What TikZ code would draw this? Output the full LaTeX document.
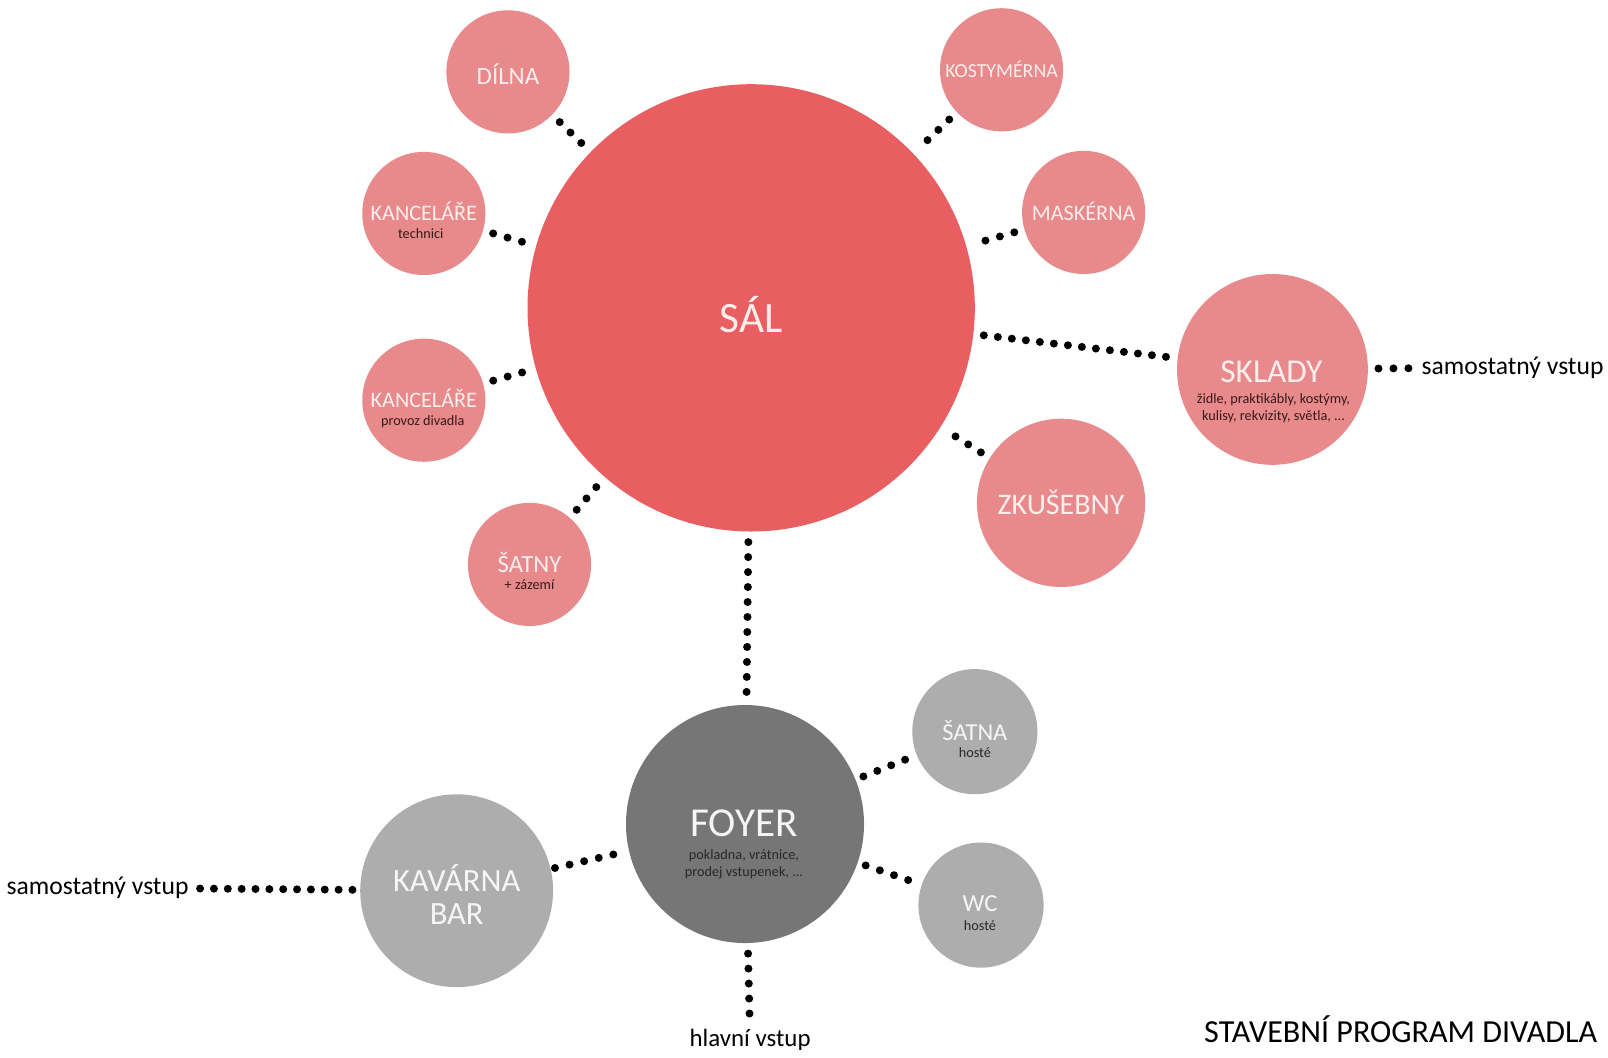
\documentclass[tikz,border=0pt]{standalone}
\usepackage{fontspec}
\setmainfont{Carlito}
\definecolor{salred}{RGB}{232,94,97}
\definecolor{pinkb}{RGB}{232,138,139}
\definecolor{foyerg}{RGB}{118,118,118}
\definecolor{lightg}{RGB}{173,173,173}
\definecolor{pinktxt}{RGB}{253,238,238}
\definecolor{darksub}{RGB}{55,25,25}
\definecolor{greysub}{RGB}{40,40,40}
\definecolor{greytxt}{RGB}{246,246,246}
\begin{document}
\begin{tikzpicture}[x=0.02cm,y=-0.02cm,
  bub/.style={circle,inner sep=0pt,minimum size=#1},
  pinkbub/.style={bub=#1,fill=pinkb},
  greybub/.style={bub=#1,fill=lightg},
  lbl/.style={inner sep=0pt,anchor=center,align=center},
  ptxt/.style={lbl,text=pinktxt,font=\fontsize{#1}{#1}\selectfont},
  gtxt/.style={lbl,text=greytxt,font=\fontsize{#1}{#1}\selectfont},
  psub/.style={lbl,text=darksub,font=\fontsize{7.9}{9.7}\selectfont},
  gsub/.style={lbl,text=greysub,font=\fontsize{7.9}{9.7}\selectfont},
  outtxt/.style={inner sep=0pt,text=black,font=\fontsize{#1}{#1}\selectfont},
  dotline/.style={line width=0.156cm,line cap=round,dash pattern=on 0pt off 0.292cm,
    shorten <=0.2cm,shorten >=0.2cm}
]
\useasboundingbox (0,0) rectangle (1567,1031);

% main hall
\node[bub=8.72cm,fill=salred] (sal) at (732,300) {};
\node[ptxt=24] (salT) at (732,307) {SÁL};

% pink rooms
\node[pinkbub=2.4cm] (dilna) at (495,70) {};
\node[ptxt=13.8] (dilnaT) at (495,72) {DÍLNA};

\node[pinkbub=2.4cm] (kost) at (976,68) {};
\node[ptxt=11] (kostT) at (976,68) {KOSTYMÉRNA};

\node[pinkbub=2.4cm] (kanc1) at (413,208) {};
\node[ptxt=12.3] (kanc1T) at (413,206) {KANCELÁŘE};
\node[psub] (kanc1S) at (410,228) {technici};

\node[pinkbub=2.4cm] (mask) at (1056,207) {};
\node[ptxt=12.3] (maskT) at (1056,206) {MASKÉRNA};

\node[pinkbub=2.4cm] (kanc2) at (413,390) {};
\node[ptxt=12.3] (kanc2T) at (413,388) {KANCELÁŘE};
\node[psub] (kanc2S) at (412,411) {provoz divadla};

\node[pinkbub=3.72cm] (skl) at (1240,360) {};
\node[ptxt=18.5] (sklT) at (1239,362) {SKLADY};
\node[psub] (sklS) at (1241,398) {židle, praktikábly, kostýmy,\\kulisy, rekvizity, světla, ...};

\node[pinkbub=3.28cm] (zkus) at (1034,490) {};
\node[ptxt=16.6] (zkusT) at (1034,490) {ZKUŠEBNY};

\node[pinkbub=2.4cm] (satny) at (516,550) {};
\node[ptxt=13.7] (satnyT) at (516,548) {ŠATNY};
\node[psub] (satnyS) at (516,570) {+ zázemí};

% foyer group
\node[bub=4.64cm,fill=foyerg] (foyer) at (726,803) {};
\node[gtxt=22.8] (foyerT) at (725,802) {FOYER};
\node[gsub] (foyerS) at (725,842) {pokladna, vrátnice,\\prodej vstupenek, ...};

\node[greybub=2.44cm] (satna) at (950,713) {};
\node[gtxt=13.5] (satnaT) at (950,712) {ŠATNA};
\node[gsub] (satnaS) at (950,733) {hosté};

\node[greybub=2.44cm] (wc) at (956,882) {};
\node[gtxt=13.6] (wcT) at (955,881) {WC};
\node[gsub] (wcS) at (955,902) {hosté};

\node[greybub=3.76cm] (kav) at (445,868) {};
\node[lbl,text=greytxt,font=\fontsize{18}{18.2}\selectfont] (kavT) at (445,872) {KAVÁRNA\\BAR};

% outside texts
\node[outtxt=14.2,anchor=east] (samL) at (184,865) {samostatný vstup};
\node[outtxt=14.2,anchor=west] (samR) at (1385,358) {samostatný vstup};
\node[outtxt=13.8] (hlavni) at (731,1013) {hlavní vstup};
\node[outtxt=17.8] (title) at (1365,1003) {STAVEBNÍ PROGRAM DIVADLA};

% connectors
\draw[dotline] (dilna) -- (sal);
\draw[dotline] (kanc1) -- (sal);
\draw[dotline] (kanc2) -- (sal);
\draw[dotline] (satny) -- (sal);
\draw[dotline] (kost) -- (sal);
\draw[dotline] (mask) -- (sal);
\draw[dotline] (zkus) -- (sal);
\draw[dotline,dash pattern=on 0pt off 0.275cm] (sal) -- (skl);
\draw[dotline] (skl) -- (samR);
\draw[dotline,shorten >=0.18cm] (sal) -- (foyer);
\draw[dotline,shorten <=0.16cm,shorten >=0.16cm] (foyer) -- (satna);
\draw[dotline,shorten <=0.16cm,shorten >=0.16cm] (foyer) -- (wc);
\draw[dotline,shorten <=0.08cm,shorten >=0.14cm] (kav) -- (foyer);
\draw[dotline,dash pattern=on 0pt off 0.27cm,shorten <=0.22cm,shorten >=0.1cm] (samL) -- (kav);
\draw[dotline] (foyer) -- (hlavni);
\end{tikzpicture}
\end{document}
